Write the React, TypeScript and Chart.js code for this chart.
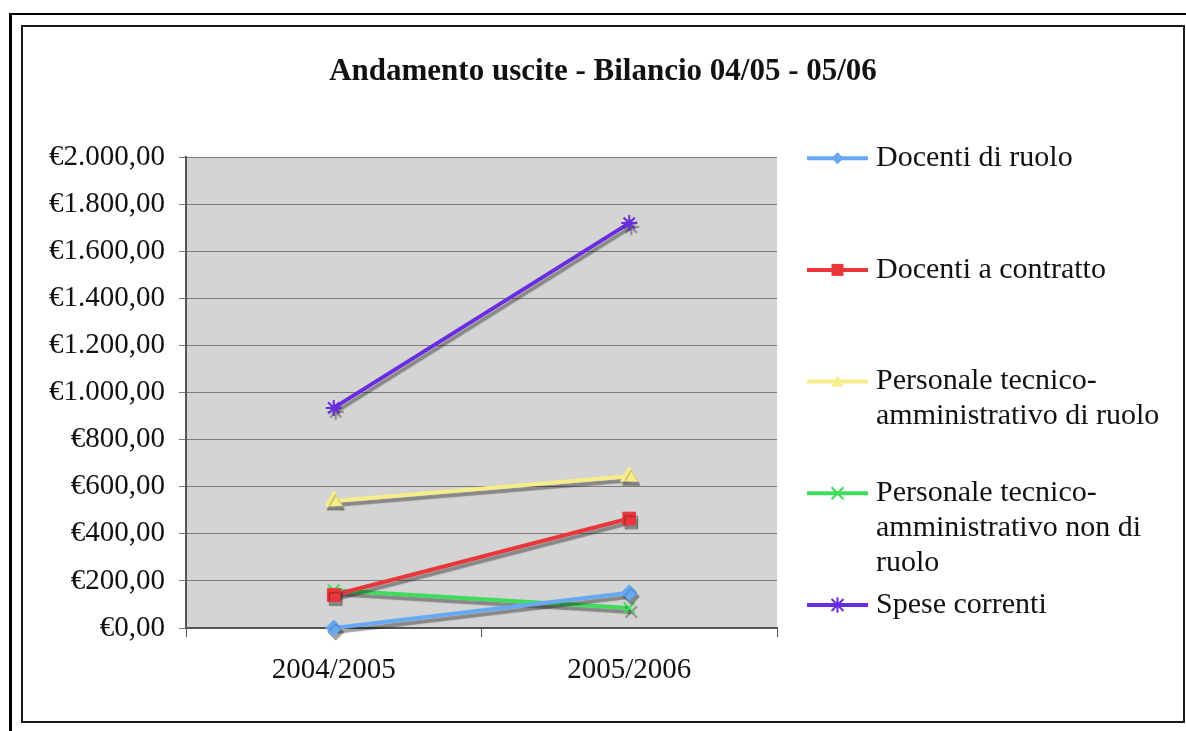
import React, { useEffect, useRef } from "react";
import { Chart, registerables } from "chart.js";

Chart.register(...registerables);

const categories = ["2004/2005", "2005/2006"];
const docentiRuolo = [0, 150];
const docentiContratto = [140, 465];
const ptaRuolo = [540, 645];
const ptaNonRuolo = [160, 85];
const speseCorrenti = [935, 1720];

const seriesNames = [
  "Docenti di ruolo",
  "Docenti a contratto",
  "Personale tecnico-amministrativo di ruolo",
  "Personale tecnico-amministrativo non di ruolo",
  "Spese correnti",
];
const legendLines = [
  ["Docenti di ruolo"],
  ["Docenti a contratto"],
  ["Personale tecnico-", "amministrativo di ruolo"],
  ["Personale tecnico-", "amministrativo non di", "ruolo"],
  ["Spese correnti"],
];
const seriesColors = ["#66a8f2", "#e8363a", "#f6ec8a", "#3edc5a", "#6a2ce0"];
const seriesMarkers = ["rectRot", "rect", "triangle", "crossRot", "star"];
const yMin = 0;
const yMax = 2000;
const yStep = 200;
const titleText = "Andamento uscite - Bilancio 04/05 - 05/06";

const FONT = "'Liberation Serif', 'Times New Roman', serif";

function euro(v: number): string {
  const s = Math.round(v)
    .toString()
    .replace(/\B(?=(\d{3})+(?!\d))/g, ".");
  return "\u20AC" + s + ",00";
}

function drawMarker(ctx: CanvasRenderingContext2D, style: string, x: number, y: number, r: number, color: string) {
  ctx.save();
  ctx.fillStyle = color;
  ctx.strokeStyle = color;
  ctx.lineWidth = 2;
  ctx.beginPath();
  if (style === "rectRot") {
    ctx.moveTo(x, y - r);
    ctx.lineTo(x + r, y);
    ctx.lineTo(x, y + r);
    ctx.lineTo(x - r, y);
    ctx.closePath();
    ctx.fill();
  } else if (style === "rect") {
    ctx.rect(x - r, y - r, 2 * r, 2 * r);
    ctx.fill();
  } else if (style === "triangle") {
    ctx.moveTo(x, y - r);
    ctx.lineTo(x + r, y + r * 0.8);
    ctx.lineTo(x - r, y + r * 0.8);
    ctx.closePath();
    ctx.fill();
  } else if (style === "crossRot") {
    ctx.moveTo(x - r, y - r);
    ctx.lineTo(x + r, y + r);
    ctx.moveTo(x + r, y - r);
    ctx.lineTo(x - r, y + r);
    ctx.stroke();
  } else if (style === "star") {
    ctx.moveTo(x - r, y - r);
    ctx.lineTo(x + r, y + r);
    ctx.moveTo(x + r, y - r);
    ctx.lineTo(x - r, y + r);
    ctx.moveTo(x, y - r * 1.3);
    ctx.lineTo(x, y + r * 1.3);
    ctx.stroke();
  }
  ctx.restore();
}

const plotBgPlugin = {
  id: "plotBg",
  beforeDraw(chart: any) {
    const { ctx, chartArea } = chart;
    ctx.save();
    ctx.fillStyle = "#d4d4d4";
    ctx.fillRect(chartArea.left, chartArea.top, chartArea.right - chartArea.left, chartArea.bottom - chartArea.top);
    ctx.restore();
  },
};

const shadowPlugin = {
  id: "lineShadow",
  beforeDatasetDraw(chart: any) {
    const ctx = chart.ctx;
    ctx.save();
    ctx.shadowColor = "rgba(0,0,0,0.36)";
    ctx.shadowOffsetX = 2;
    ctx.shadowOffsetY = 4;
    ctx.shadowBlur = 1;
  },
  afterDatasetDraw(chart: any) {
    chart.ctx.restore();
  },
};

const legendPlugin = {
  id: "sideLegend",
  afterDraw(chart: any) {
    const { ctx, chartArea } = chart;
    const lx = chartArea.right + 30;
    const lineLen = 61;
    const step = (chartArea.bottom - chartArea.top - 24) / (seriesNames.length - 1);
    const lineGap = 35;
    ctx.save();
    ctx.font = `30px ${FONT}`;
    ctx.textBaseline = "middle";
    ctx.textAlign = "left";
    for (let i = 0; i < seriesNames.length; i++) {
      const y = chartArea.top + 1 + i * step;
      ctx.strokeStyle = seriesColors[i];
      ctx.lineWidth = 4;
      ctx.beginPath();
      ctx.moveTo(lx, y);
      ctx.lineTo(lx + lineLen, y);
      ctx.stroke();
      drawMarker(ctx, seriesMarkers[i], lx + lineLen / 2, y, 6, seriesColors[i]);
      ctx.fillStyle = "#111";
      legendLines[i].forEach((t, k) => {
        ctx.fillText(t, lx + 69, y + k * lineGap);
      });
    }
    ctx.restore();
  },
};

export default function App() {
  const canvasRef = useRef<HTMLCanvasElement | null>(null);

  useEffect(() => {
    const canvas = canvasRef.current;
    if (!canvas) return;
    const seriesData = [docentiRuolo, docentiContratto, ptaRuolo, ptaNonRuolo, speseCorrenti];
    const radii = [8, 9, 10, 8, 8];
    const chart = new Chart(canvas, {
      type: "line",
      data: {
        labels: categories,
        datasets: seriesData.map((d, i) => ({
          label: seriesNames[i],
          data: d,
          yAxisID: "y",
          borderColor: seriesColors[i],
          backgroundColor: seriesColors[i],
          borderWidth: 4,
          pointStyle: seriesMarkers[i] as any,
          pointRadius: radii[i],
          pointBorderWidth: i >= 3 ? 2 : 1,
          pointBackgroundColor: seriesColors[i],
          pointBorderColor: seriesColors[i],
          tension: 0,
          clip: false as any,
        })),
      },
      options: {
        responsive: false,
        animation: false,
        devicePixelRatio: 1,
        layout: { padding: { left: 0, right: 0, top: 0, bottom: 0 } },
        plugins: {
          legend: { display: false },
          tooltip: { enabled: false },
          title: {
            display: true,
            text: titleText,
            color: "#111",
            font: { family: FONT, size: 31, weight: "bold", lineHeight: 1.2 },
            padding: { top: 26, bottom: 67 },
          },
        },
        scales: {
          x: {
            type: "category",
            offset: true,
            grid: {
              offset: true,
              drawOnChartArea: false,
              drawTicks: true,
              tickLength: 9,
              color: "#555",
            },
            border: { display: true, color: "#555", width: 2 },
            ticks: {
              color: "#111",
              font: { family: FONT, size: 29 },
              padding: 16,
              maxRotation: 0,
            },
            afterFit(scale: any) {
              scale.height = 93;
            },
          },
          y: {
            min: yMin,
            max: yMax,
            grid: {
              color: "#7c7c7c",
              lineWidth: 1,
              drawTicks: true,
              tickLength: 7,
            },
            border: { display: true, color: "#555", width: 2 },
            ticks: {
              stepSize: yStep,
              color: "#111",
              font: { family: FONT, size: 29 },
              padding: 14,
              callback: (v: any) => euro(Number(v)),
            },
            afterFit(scale: any) {
              scale.width = 163;
            },
          },
          legendSpace: {
            type: "linear",
            position: "right",
            display: true,
            min: yMin,
            max: yMax,
            grid: { display: false, drawTicks: false },
            border: { display: false },
            ticks: { display: false },
            afterFit(scale: any) {
              scale.width = 406;
            },
          },
        },
      },
      plugins: [plotBgPlugin, shadowPlugin, legendPlugin],
    });
    return () => chart.destroy();
  }, []);

  return (
    <div
      style={{
        position: "absolute",
        left: 0,
        top: 0,
        width: 1186,
        height: 731,
        background: "#fff",
        overflow: "hidden",
      }}
    >
      <div style={{ position: "absolute", left: 9, top: 13, width: 1177, height: 2, background: "#000" }} />
      <div style={{ position: "absolute", left: 9, top: 13, width: 3, height: 718, background: "#000" }} />
      <div
        style={{
          position: "absolute",
          left: 21,
          top: 25,
          width: 1164,
          height: 698,
          boxSizing: "border-box",
          border: "2px solid #1a1a1a",
          background: "#fff",
        }}
      >
        <canvas ref={canvasRef} width={1160} height={694} style={{ display: "block", width: 1160, height: 694 }} />
      </div>
    </div>
  );
}
